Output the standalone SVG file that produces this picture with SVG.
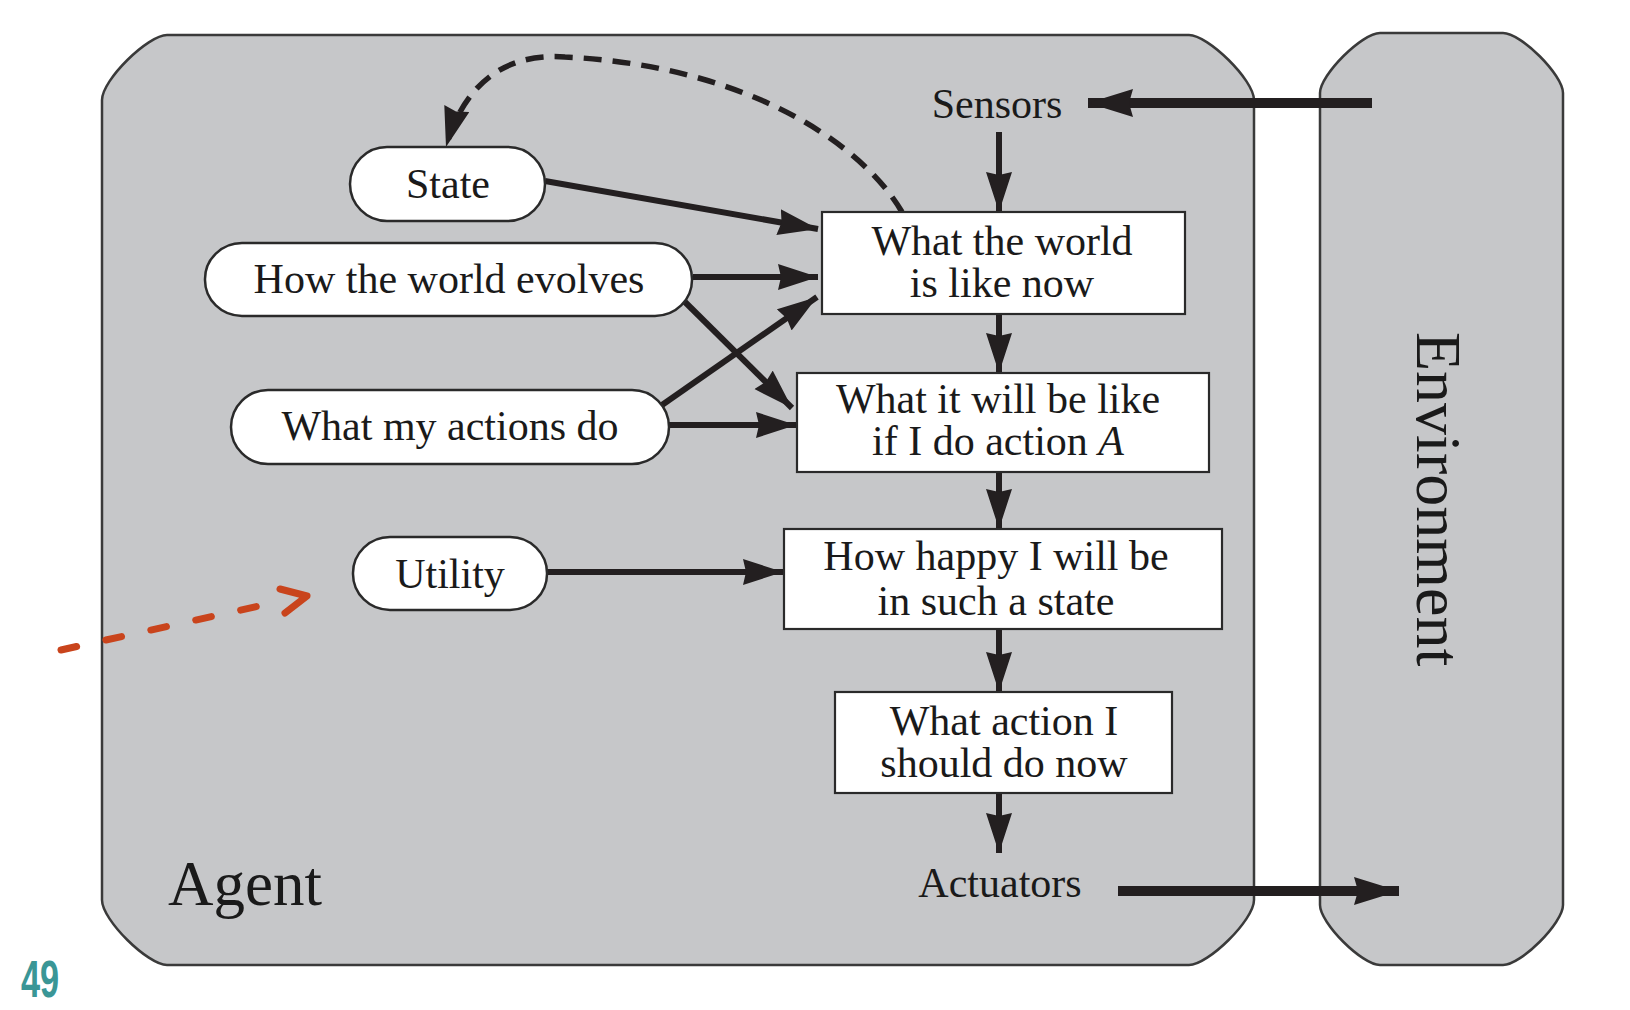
<svg xmlns="http://www.w3.org/2000/svg" width="1630" height="1010" viewBox="0 0 1630 1010">
<defs>
<style>
.frame{fill:#c6c7c9;stroke:#3a3a3a;stroke-width:2.5}
.pill{fill:#fff;stroke:#2a2a2a;stroke-width:2.5}
.box{fill:#fff;stroke:#2a2a2a;stroke-width:2.2}
.t{font-family:"Liberation Serif","Times New Roman",serif;font-size:42px;fill:#1a1a1a;text-anchor:middle}
.big{font-family:"Liberation Serif","Times New Roman",serif;font-size:64px;fill:#1a1a1a}
.c{fill:none;stroke:#231f20;stroke-width:6}
.thick{fill:none;stroke:#231f20;stroke-width:10}
.dash{fill:none;stroke:#231f20;stroke-width:5.5;stroke-dasharray:18 11}
.red{fill:none;stroke:#c9441c;stroke-width:7;stroke-linecap:round}
</style>
<marker id="ah" markerUnits="userSpaceOnUse" markerWidth="44" markerHeight="28" refX="40" refY="13" orient="auto">
<path d="M0,0 L40,13 L0,26 L3,13 Z" fill="#231f20"/>
</marker>
<marker id="ahb" markerUnits="userSpaceOnUse" markerWidth="50" markerHeight="30" refX="45" refY="14" orient="auto">
<path d="M0,0 L45,14 L0,28 L4,14 Z" fill="#231f20"/>
</marker>
</defs>
<rect width="1630" height="1010" fill="#fff"/>
<g id="agent">
<path class="frame" d="M102,100 C102,80 148,35 167,35 L1189,35 C1208,35 1254,80 1254,100 L1254,900 C1254,920 1208,965 1189,965 L167,965 C148,965 102,920 102,900 Z"/>
<text class="big" x="168" y="905" style="font-size:63px">Agent</text>
</g>
<g id="environment">
<path class="frame" d="M1320,93 C1320,75 1362,33 1380,33 L1503,33 C1521,33 1563,75 1563,93 L1563,905 C1563,923 1521,965 1503,965 L1380,965 C1362,965 1320,923 1320,905 Z"/>
<text class="big" transform="translate(1417,332) rotate(90)">Environment</text>
</g>
<g id="connectors">
<line class="thick" x1="1372" y1="103" x2="1088" y2="103" marker-end="url(#ahb)"/>
<line class="thick" x1="1118" y1="891" x2="1399" y2="891" marker-end="url(#ahb)"/>
<line class="c" x1="999" y1="132" x2="999" y2="212" marker-end="url(#ah)"/>
<line class="c" x1="999" y1="314" x2="999" y2="373" marker-end="url(#ah)"/>
<line class="c" x1="999" y1="472" x2="999" y2="529" marker-end="url(#ah)"/>
<line class="c" x1="999" y1="629" x2="999" y2="692" marker-end="url(#ah)"/>
<line class="c" x1="999" y1="793" x2="999" y2="853" marker-end="url(#ah)"/>
<line class="c" x1="545" y1="181" x2="818" y2="229" marker-end="url(#ah)"/>
<line class="c" x1="693" y1="277" x2="818" y2="277" marker-end="url(#ah)"/>
<line class="c" x1="662" y1="405" x2="817" y2="297" marker-end="url(#ah)"/>
<line class="c" x1="685" y1="302" x2="792" y2="408" marker-end="url(#ah)"/>
<line class="c" x1="669" y1="425" x2="796" y2="425" marker-end="url(#ah)"/>
<line class="c" x1="547" y1="572" x2="783" y2="572" marker-end="url(#ah)"/>
<path class="dash" d="M902,212 C860,140 740,65 565,57 C500,52 462,90 446,147" marker-end="url(#ah)"/>
<line class="red" x1="61" y1="650" x2="268" y2="604" style="stroke-dasharray:16 30"/>
<polyline class="red" points="280,589 307,596 285,613" style="stroke-linejoin:round"/>
</g>
<g id="sensors"><text class="t" x="997" y="118">Sensors</text></g>
<g id="actuators"><text class="t" x="1000" y="897">Actuators</text></g>
<g id="state"><rect class="pill" x="350" y="147" width="195" height="74" rx="37" ry="37"/><text class="t" x="448" y="198">State</text></g>
<g id="evolves"><rect class="pill" x="205" y="243" width="487" height="73" rx="37" ry="36"/><text class="t" x="449" y="293">How the world evolves</text></g>
<g id="actions"><rect class="pill" x="231" y="390" width="438" height="74" rx="37" ry="37"/><text class="t" x="450" y="440">What my actions do</text></g>
<g id="utility"><rect class="pill" x="353" y="537" width="194" height="73" rx="37" ry="36"/><text class="t" x="450" y="588">Utility</text></g>
<g id="world-now"><rect class="box" x="822" y="212" width="363" height="102"/><text class="t" x="1002" y="255">What the world</text><text class="t" x="1002" y="297">is like now</text></g>
<g id="will-be"><rect class="box" x="797" y="373" width="412" height="99"/><text class="t" x="998" y="413">What it will be like</text><text class="t" x="998" y="455">if I do action <tspan font-style="italic">A</tspan></text></g>
<g id="happy"><rect class="box" x="784" y="529" width="438" height="100"/><text class="t" x="996" y="570">How happy I will be</text><text class="t" x="996" y="615">in such a state</text></g>
<g id="action-now"><rect class="box" x="835" y="692" width="337" height="101"/><text class="t" x="1004" y="735">What action I</text><text class="t" x="1004" y="777">should do now</text></g>
<text transform="translate(21,997) scale(0.66,1)" style="font-family:'Liberation Sans',Arial,sans-serif;font-size:52px;font-weight:bold;fill:#3a9696">49</text>
</svg>
